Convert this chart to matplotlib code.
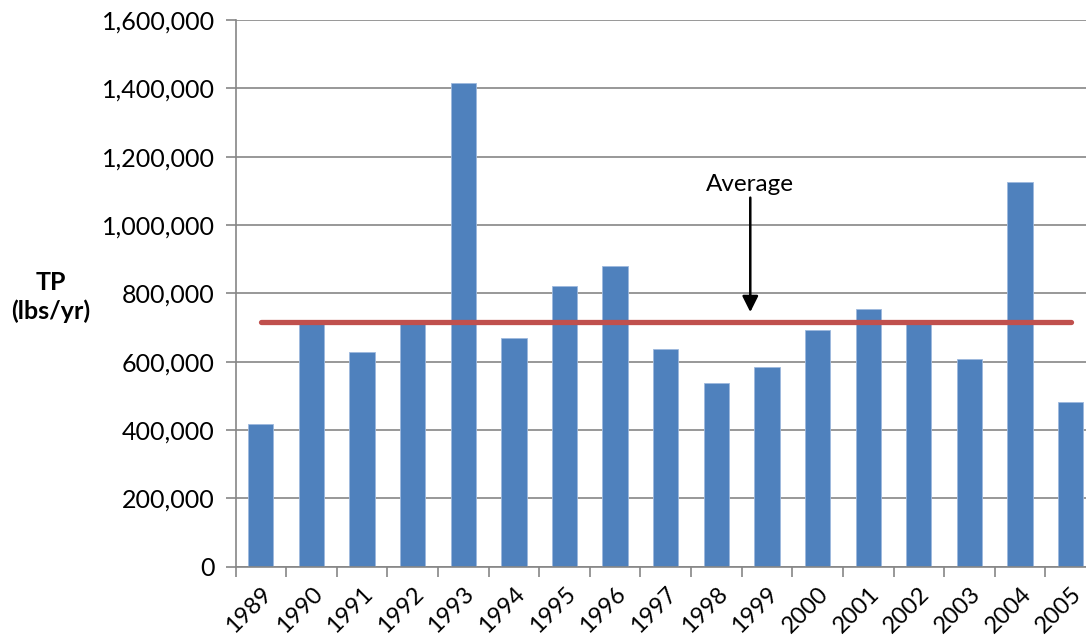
import matplotlib
matplotlib.use("Agg")
import matplotlib.pyplot as plt
from matplotlib.ticker import FuncFormatter, FixedLocator
import numpy as np

# ── Data ──────────────────────────────────────────────────────────────────────
years = ["1989", "1990", "1991", "1992", "1993", "1994", "1995", "1996", "1997",
         "1998", "1999", "2000", "2001", "2002", "2003", "2004", "2005"]
tp_load = [417000, 715000, 629000, 718000, 1417000, 669000, 820000, 881000, 637000,
           538000, 583000, 694000, 754000, 712000, 607000, 1125000, 483000]
average = 717000

BAR_BLUE = "#4F81BD"
AVG_RED = "#C0504D"
GRID = "#868686"

plt.rcParams.update({
    "font.family": ["Lato", "DejaVu Sans"],
    "font.size": 18,
})

fig = plt.figure(figsize=(10.86, 6.38), dpi=100)
# plot area runs past the right edge, as in the cropped original
ax = fig.add_axes([235.5 / 1086, (638 - 566.6) / 638,
                   (1096 - 235.5) / 1086, (566.6 - 20) / 638])

x = np.arange(len(years))
ax.bar(x, tp_load, width=0.5, color=BAR_BLUE, edgecolor="#9DB9DE",
       linewidth=0.6, zorder=2)
ax.plot([x[0], x[-1]], [average, average], color=AVG_RED, lw=3.8,
        solid_capstyle="round", zorder=3)

ax.annotate("", xy=(9.67, 745000), xytext=(9.67, 1080000),
            arrowprops=dict(arrowstyle="-|>", color="black", lw=1.8,
                            mutation_scale=24, shrinkA=0, shrinkB=0),
            zorder=4)
ax.text(9.67, 1118000, "Average", ha="center", va="center", fontsize=17.5)

ax.set_xlim(-0.5, len(years) - 0.5)
ax.set_ylim(0, 1600000)
ax.set_yticks(np.arange(0, 1600001, 200000))
ax.yaxis.set_major_formatter(FuncFormatter(lambda v, p: f"{int(v):,}"))
ax.grid(axis="y", color=GRID, lw=1.2, zorder=0)
ax.set_axisbelow(True)

ax.set_xticks(x)
ax.set_xticklabels(years, rotation=45, ha="right", rotation_mode="anchor",
                   fontsize=17)
ax.tick_params(axis="x", length=0, pad=12)
ax.xaxis.set_minor_locator(FixedLocator(np.arange(-0.5, len(years), 1.0)))
ax.tick_params(axis="x", which="minor", length=7, width=1.2, color=GRID)
ax.tick_params(axis="y", length=7, width=1.2, color=GRID, pad=8)

for side in ["top", "right"]:
    ax.spines[side].set_visible(False)
for side in ["left", "bottom"]:
    ax.spines[side].set_color(GRID)
    ax.spines[side].set_linewidth(1.2)

fig.text(51 / 1086, 1 - 297 / 638, "TP\n(lbs/yr)", ha="center", va="center",
         fontsize=18, fontweight="bold", linespacing=1.25)

fig.savefig("out.png", dpi=100)
